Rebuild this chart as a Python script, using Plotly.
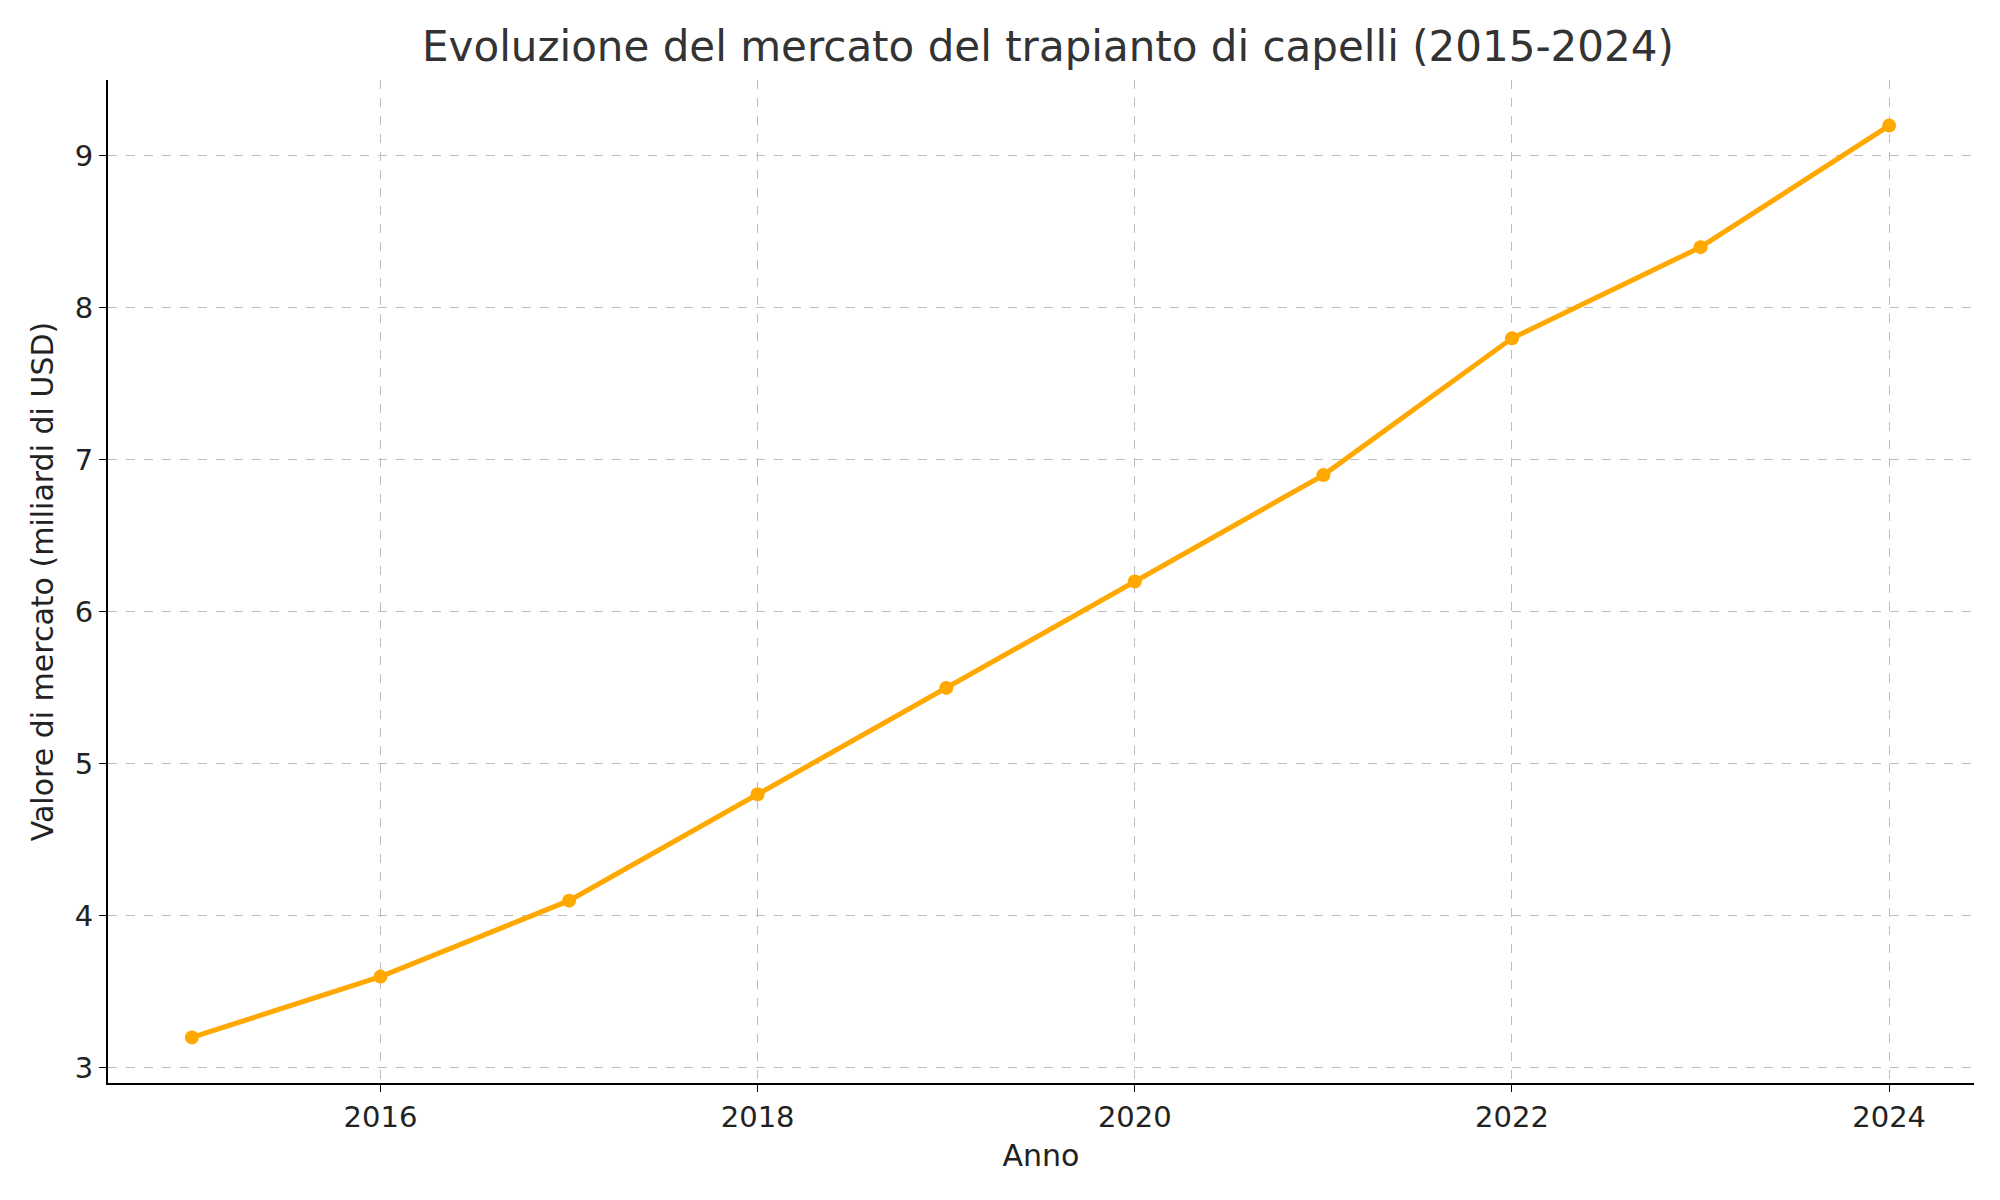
import plotly.graph_objects as go

anni = [2015, 2016, 2017, 2018, 2019, 2020, 2021, 2022, 2023, 2024]
valori = [3.2, 3.6, 4.1, 4.8, 5.5, 6.2, 6.9, 7.8, 8.4, 9.2]

fig = go.Figure(go.Scatter(x=anni, y=valori, mode="lines+markers",
                           line=dict(color="#FFA800", width=5),
                           marker=dict(color="#FFA800", size=14)))
ax = dict(showgrid=True, gridcolor="#bdbdbd", griddash="dash", gridwidth=1.3,
          showline=True, linecolor="black", linewidth=2, ticks="outside",
          ticklen=7, tickcolor="black", zeroline=False,
          tickfont=dict(size=29, color="#222"))
fig.update_layout(
    width=2000, height=1200, plot_bgcolor="white", paper_bgcolor="white",
    font=dict(family="DejaVu Sans", color="#222"),
    title=dict(text="Evoluzione del mercato del trapianto di capelli (2015-2024)",
               x=0.52, xanchor="center", y=0.968, yanchor="middle",
               font=dict(size=42, color="#333")),
    margin=dict(l=100, r=34, t=72, b=125), showlegend=False,
    xaxis=dict(ax, range=[2014.555, 2024.45], tickvals=[2016, 2018, 2020, 2022, 2024],
               title=dict(text="Anno", font=dict(size=30), standoff=12)),
    yaxis=dict(ax, range=[2.9, 9.5], tickvals=[3, 4, 5, 6, 7, 8, 9],
               title=dict(text="Valore di mercato (miliardi di USD)", font=dict(size=30), standoff=12)),
)
fig.write_html("out.html")
